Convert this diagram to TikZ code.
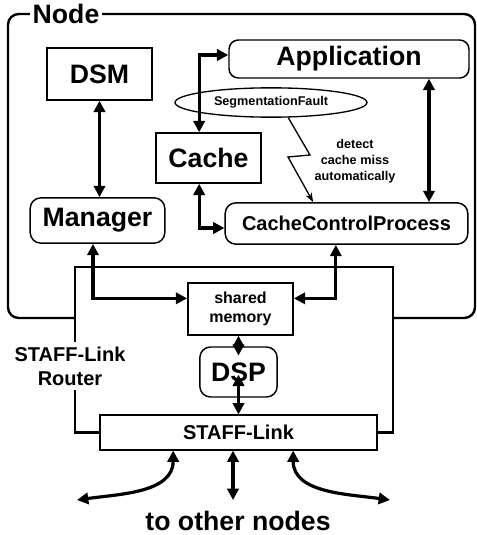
\documentclass[tikz,border=0pt]{standalone}
\usepackage{fontspec}
\setmainfont{Liberation Sans}
\usetikzlibrary{arrows.meta,shapes.geometric}

\tikzset{
  box/.style={draw, line width=1.1pt, inner sep=0pt},
  rbox/.style={box, rounded corners=7pt},
  frame/.style={line width=1.8pt},
  dlink/.style={line width=2.4pt, {Triangle[length=8.5pt,width=8.5pt]}-{Triangle[length=8.5pt,width=8.5pt]}},
  big/.style={font=\fontsize{20}{24}\selectfont\bfseries},
  mid/.style={font=\fontsize{15}{18}\selectfont\bfseries},
  small/.style={font=\fontsize{12}{14}\selectfont\bfseries},
  tiny/.style={font=\fontsize{9.5}{12}\selectfont\bfseries},
}

\begin{document}
\begin{tikzpicture}[x=0.75pt,y=-0.75pt]
    \useasboundingbox (0,0) rectangle (477,535);

    % blocks inside the node
    \node[box, big, minimum width=79pt, minimum height=39pt] (dsm) at (99.5,74) {DSM};
    \node[rbox, big, minimum width=101pt, minimum height=34pt, rounded corners=8pt] (mgr) at (97.5,220.5) {Manager};
    \node[box, big, minimum width=79pt, minimum height=37.5pt] (cache) at (208.5,158) {Cache};
    \node[rbox, big, minimum width=180pt, minimum height=28.5pt] (app) at (349,59) {Application};
    \node[rbox, mid, minimum width=182pt, minimum height=31pt, rounded corners=8pt] (ccp) at (346.5,223.5) {CacheControlProcess};
    \node[draw, ellipse, line width=1pt, tiny, minimum width=144pt, minimum height=22pt, inner sep=0pt] (seg) at (271,102.5) {SegmentationFault};
    \node[tiny, align=center] (miss) at (355,161) {detect\\cache miss\\automatically};

    % router part
    \node[box, small, align=center, minimum width=79pt, minimum height=39pt] (shm) at (240.5,309) {shared\\memory};
    \node[rbox, big, minimum width=58pt, minimum height=37.5pt, rounded corners=8pt] (dsp) at (238.5,372) {DSP};
    \node[box, mid, minimum width=208pt, minimum height=26pt] (link) at (238.5,432.5) {STAFF-Link};
    \node[mid, align=center] (rlbl) at (70,366) {STAFF-Link\\Router};

    \coordinate (rtl) at (75,267);
    \coordinate (rtr) at (393,267);
    \draw[frame] (link.west) -| ([xshift=3.75pt]rlbl.south);
    \draw[frame] ([xshift=3.75pt]rlbl.north) -- (rtl) -- (rtr) |- (link.east);

    % outer node frame
    \draw[frame, rounded corners=8pt] (75,318) -| (8,14) -| (475,318) -- (393,318);
    \node[big, fill=white, inner sep=2pt] (nodelbl) at (66,14) {Node};

    % connections
    \draw[dlink] (dsm.south) -- (dsm.south |- mgr.north);
    \draw[dlink] ([xshift=-7pt]cache.north) |- ([yshift=3pt]app.west);
    \draw[dlink] ([xshift=-7pt]cache.south) |- ([yshift=-3.4pt]ccp.west);
    \draw[dlink] ([xshift=60pt]app.south) -- ([xshift=60pt]app.south |- ccp.north);
    \draw[dlink] ([xshift=-3.4pt]mgr.south) |- ([yshift=8pt]shm.west);
    \draw[dlink] ([xshift=-8pt]ccp.south) |- ([yshift=8pt]shm.east);
    \draw[dlink] (shm.south -| dsp) -- ([yshift=-7pt]dsp.north);
    \draw[dlink] ([yshift=-2pt]dsp.center) -- (link.north);
    \draw[line width=1pt, -{Stealth[length=7pt,width=5pt]}]
        ([xshift=13pt]seg.south) -- (310,155) -- (288,157) -- ([xshift=-25pt]ccp.north);

    % links to the other nodes
    \coordinate (outL) at (77,500);
    \coordinate (outM) at (233,500);
    \coordinate (outR) at (390,500);
    \draw[dlink] ([xshift=-49pt]link.south) to[out=-90, in=8] (outL);
    \draw[dlink] (link.south -| outM) -- (outM);
    \draw[dlink] ([xshift=41pt]link.south) to[out=-90, in=172] (outR);
    \node[big, anchor=base] (other) at (238,530) {to other nodes};
\end{tikzpicture}
\end{document}
